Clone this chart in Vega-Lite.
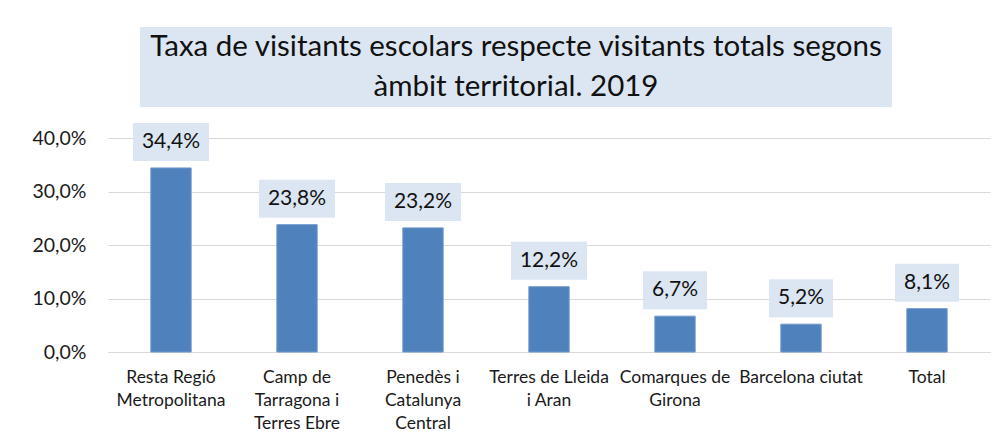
{
  "$schema": "https://vega.github.io/schema/vega-lite/v6.json",
  "padding": {"left": 32, "top": 27, "right": 5, "bottom": 5},
  "background": "#ffffff",
  "config": {
    "view": {"stroke": null},
    "font": "Lato",
    "axis": {"labelFont": "Lato", "labelColor": "#1a1a1a"},
    "locale": {"number": {"decimal": ",", "thousands": ".", "grouping": [3], "currency": ["", " €"]}}
  },
  "datasets": {
    "titol": [
      {"linia": 1, "text": "Taxa de visitants escolars respecte visitants totals segons"},
      {"linia": 2, "text": "àmbit territorial. 2019"}
    ],
    "dades": [
      {"ambit": "Resta Regió|Metropolitana", "v": 0.344},
      {"ambit": "Camp de|Tarragona i|Terres Ebre", "v": 0.238},
      {"ambit": "Penedès i|Catalunya|Central", "v": 0.232},
      {"ambit": "Terres de Lleida|i Aran", "v": 0.122},
      {"ambit": "Comarques de|Girona", "v": 0.067},
      {"ambit": "Barcelona ciutat", "v": 0.052},
      {"ambit": "Total", "v": 0.081}
    ]
  },
  "vconcat": [
    {
      "hconcat": [
        {
          "width": 1,
          "height": 80,
          "data": {"name": "titol"},
          "mark": {"type": "text", "opacity": 0},
          "encoding": {"text": {"value": ""}}
        },
        {
          "width": 752,
          "height": 80,
          "view": {"fill": "#dce6f2", "stroke": null},
          "data": {"name": "titol"},
          "mark": {"type": "text", "fontSize": 29.5, "font": "Lato", "color": "#111111", "baseline": "middle"},
          "encoding": {
            "y": {"field": "linia", "type": "ordinal", "axis": null},
            "text": {"field": "text"}
          }
        }
      ],
      "spacing": 31
    },
    {
      "width": 882,
      "height": 214,
      "data": {"name": "dades"},
      "encoding": {
        "x": {
          "field": "ambit",
          "type": "nominal",
          "sort": null,
          "scale": {"paddingInner": 0.68, "paddingOuter": 0.34},
          "axis": {
            "title": null,
            "labelAngle": 0,
            "ticks": false,
            "domain": true,
            "domainColor": "#d9d9d9",
            "labelFontSize": 17.5,
            "labelLineHeight": 23,
            "labelPadding": 16,
            "labelLimit": 300,
            "labelExpr": "split(datum.label, '|')"
          }
        },
        "y": {
          "field": "v",
          "type": "quantitative",
          "scale": {"domain": [0, 0.4]},
          "axis": {
            "title": null,
            "values": [0, 0.1, 0.2, 0.3, 0.4],
            "format": ".1%",
            "ticks": false,
            "domain": false,
            "grid": true,
            "gridColor": "#d9d9d9",
            "labelFontSize": 19.5,
            "labelPadding": 22
          }
        }
      },
      "layer": [
        {
          "mark": {"type": "bar", "color": "#4f81bd", "stroke": "#6f97c9", "strokeWidth": 1}
        },
        {
          "transform": [{"filter": "datum.v >= 0.1"}],
          "mark": {"type": "bar", "color": "#dce6f2", "width": 76, "yOffset": -7, "y2Offset": -45},
          "encoding": {"y2": {"field": "v"}}
        },
        {
          "transform": [{"filter": "datum.v < 0.1"}],
          "mark": {"type": "bar", "color": "#dce6f2", "width": 64, "yOffset": -7, "y2Offset": -45},
          "encoding": {"y2": {"field": "v"}}
        },
        {
          "mark": {"type": "text", "fontSize": 21, "font": "Lato", "color": "#111111", "baseline": "middle", "dy": -26},
          "encoding": {
            "text": {"field": "v", "type": "quantitative", "format": ".1%"}
          }
        }
      ]
    }
  ],
  "spacing": 15
}
